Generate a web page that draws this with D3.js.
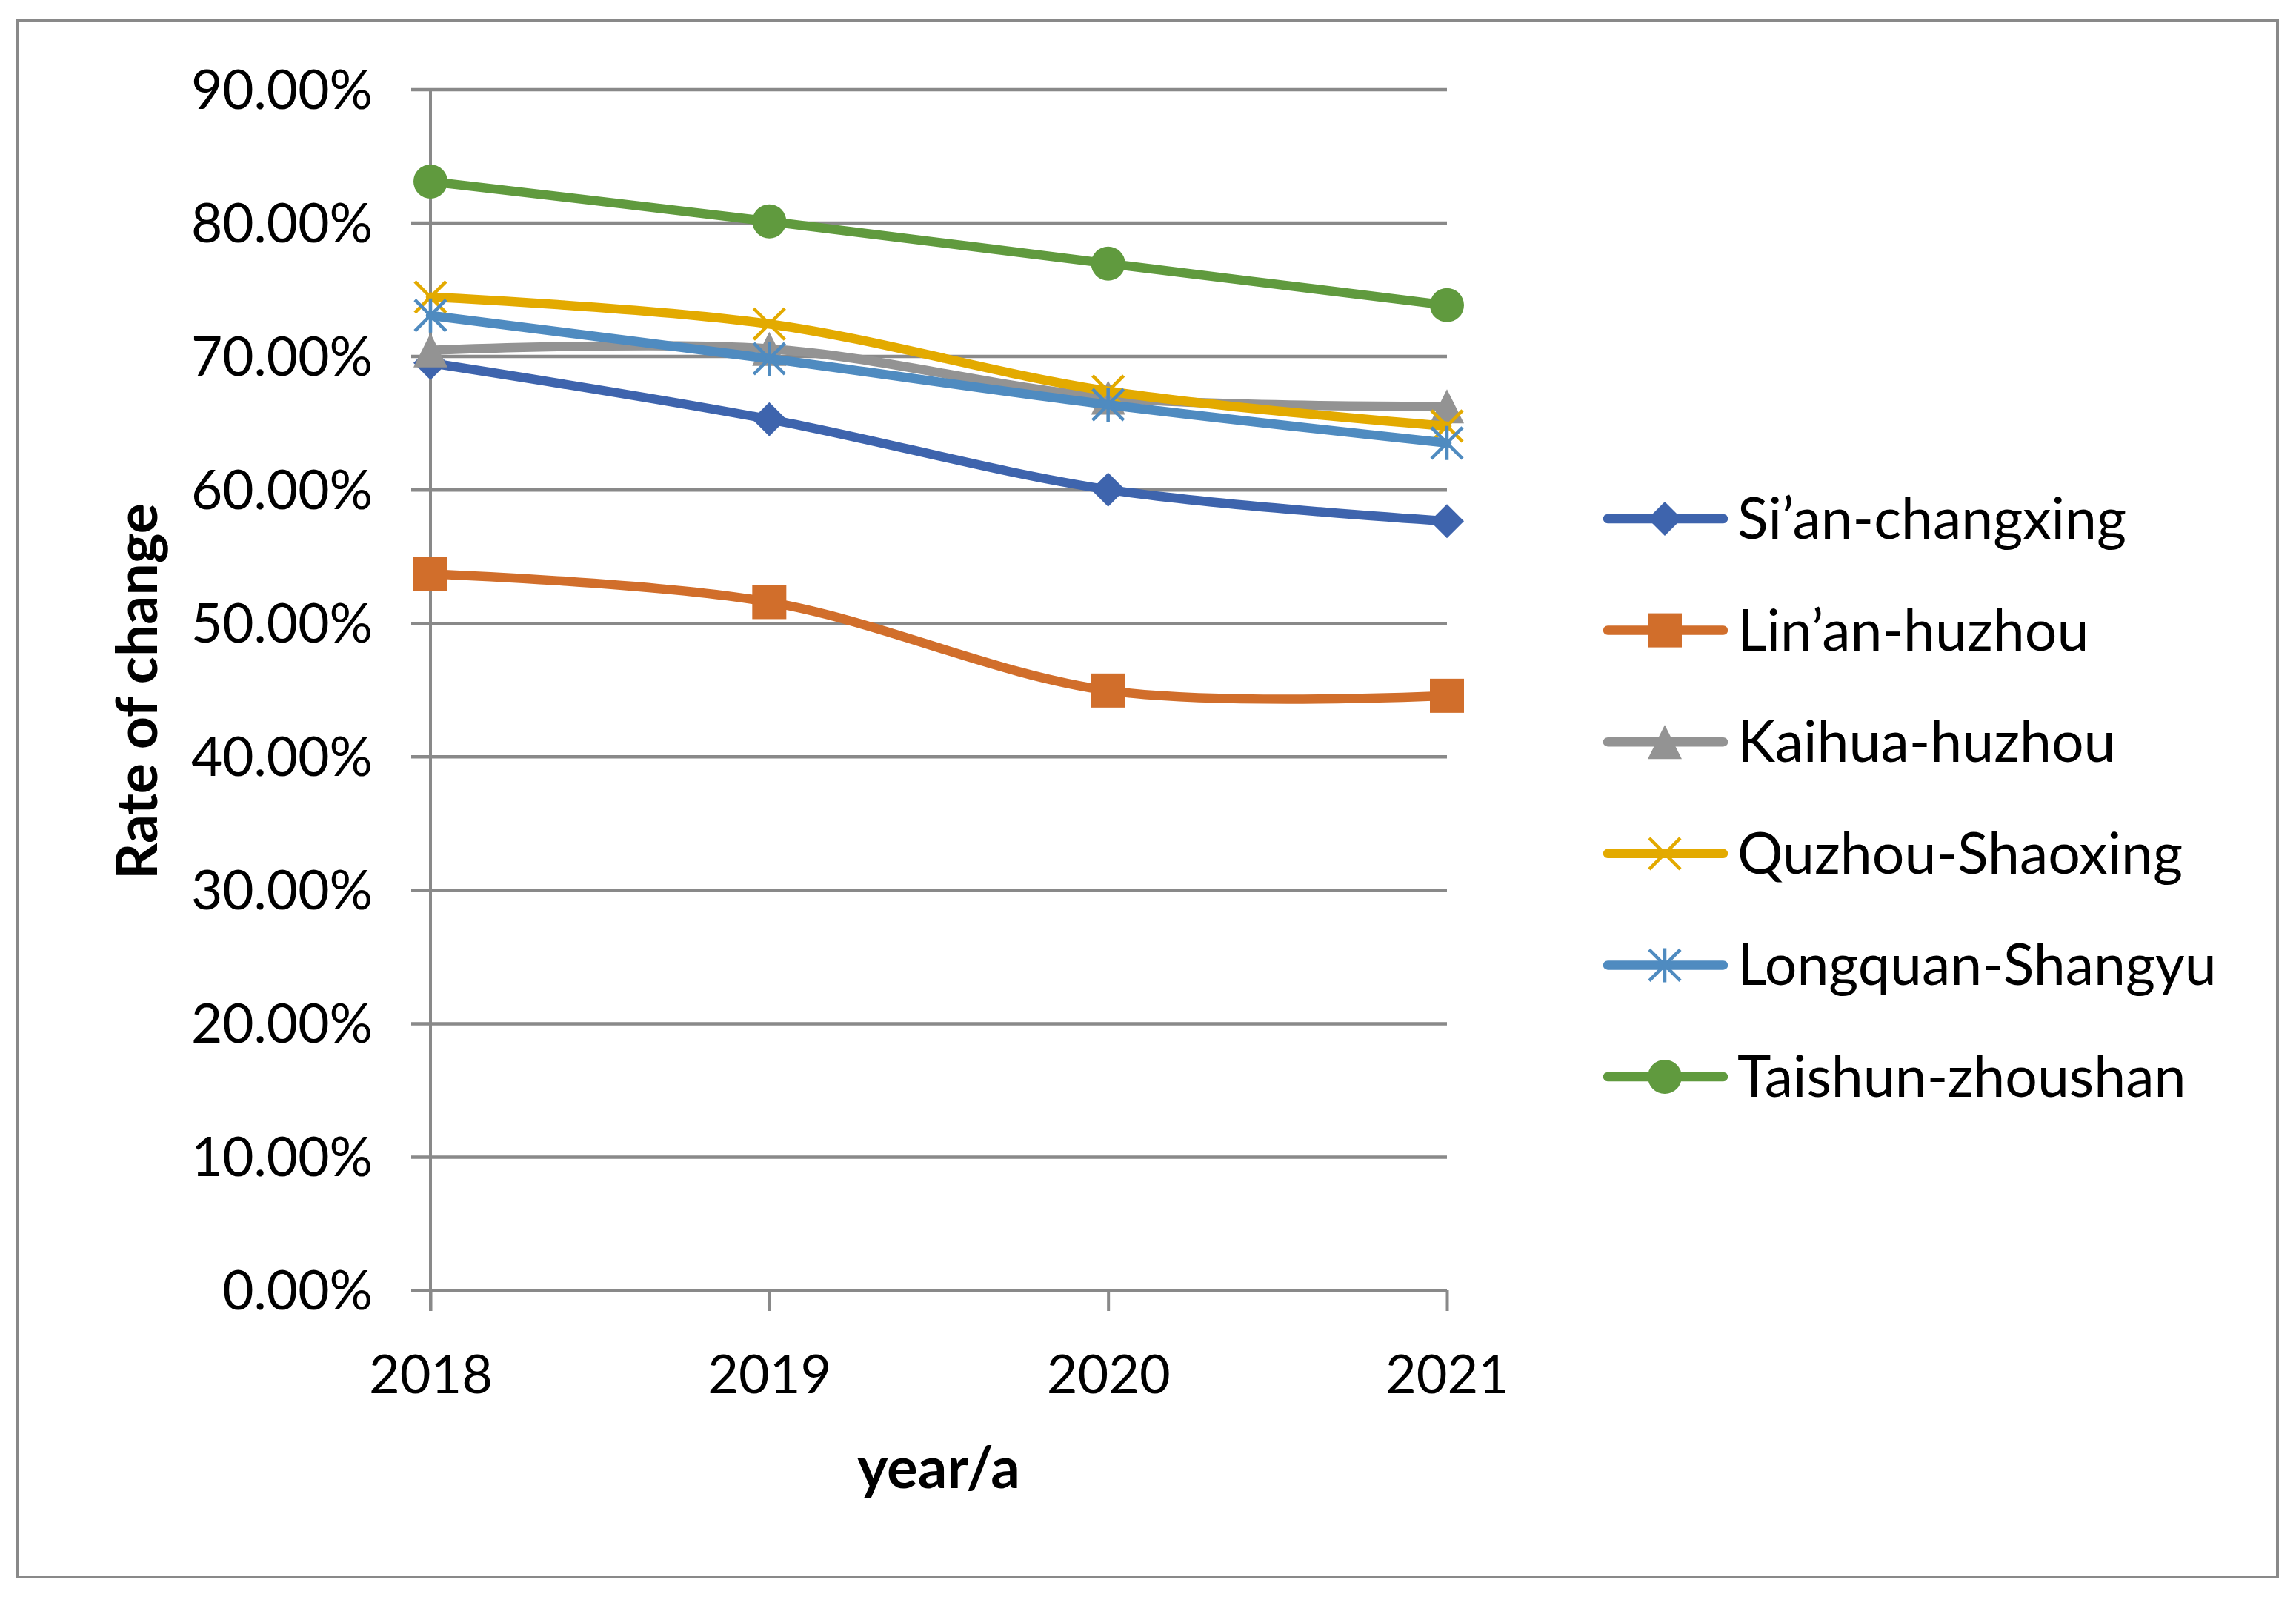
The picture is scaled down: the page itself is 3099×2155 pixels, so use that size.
<!DOCTYPE html>
<html>
<head>
<meta charset="utf-8">
<script src="https://cdn.jsdelivr.net/npm/d3@7"></script>
<style>
  body { margin: 0; background: #fff; }
  svg { display: block; font-family: Lato, "Open Sans", sans-serif; }
</style>
</head>
<body>
<svg id="chart"></svg>
<script>
// data
const years = ["2018", "2019", "2020", "2021"];
const seriesNames = ["Si\u2019an-changxing", "Lin\u2019an-huzhou", "Kaihua-huzhou",
    "Quzhou-Shaoxing", "Longquan-Shangyu", "Taishun-zhoushan"];
const sianChangxing = [0.6949, 0.6527, 0.6000, 0.5763];
const linanHuzhou = [0.5368, 0.5157, 0.4494, 0.4455];
const kaihuaHuzhou = [0.7044, 0.7055, 0.6690, 0.6624];
const quzhouShaoxing = [0.7443, 0.7241, 0.6738, 0.6476];
const longquanShangyu = [0.7305, 0.6981, 0.6636, 0.6349];
const taishunZhoushan = [0.8309, 0.8010, 0.7694, 0.7382];
const yTicks = [0, 0.1, 0.2, 0.3, 0.4, 0.5, 0.6, 0.7, 0.8, 0.9];

const allValues = [sianChangxing, linanHuzhou, kaihuaHuzhou, quzhouShaoxing, longquanShangyu, taishunZhoushan];
const colors = ["#3e64ad", "#d16e2b", "#939393", "#e3aa00", "#4f8bc0", "#609a3e"];
const markers = ["diamond", "square", "triangle", "x", "star", "circle"];

const width = 3099, height = 2155;
const svg = d3.select("#chart").attr("width", width).attr("height", height);

const x = d3.scalePoint().domain(years).range([581, 1953]);
const y = d3.scaleLinear().domain([0, 0.9]).range([1741, 120.5]);
const gridColor = "#898989";

// outer frame
svg.append("rect")
    .attr("x", 23).attr("y", 28)
    .attr("width", 3051).attr("height", 2100)
    .attr("fill", "none").attr("stroke", gridColor).attr("stroke-width", 4);

// gridlines + y labels
const yAxis = d3.axisLeft(y)
    .tickValues(yTicks)
    .tickSize(-(1953 - 555))
    .tickPadding(0)
    .tickFormat(d => (d * 100).toFixed(2) + "%");
const gy = svg.append("g").attr("transform", "translate(555,0)").call(yAxis);
gy.select(".domain").remove();
gy.selectAll(".tick line").attr("stroke", gridColor).attr("stroke-width", 4.5);
gy.selectAll(".tick text")
    .attr("x", -52).attr("dy", "0.35em")
    .attr("fill", "#000").attr("font-size", 73).attr("font-family", "Lato");

// vertical axis line
svg.append("line")
    .attr("x1", x(years[0])).attr("x2", x(years[0]))
    .attr("y1", y(0.9)).attr("y2", y(0) + 28)
    .attr("stroke", gridColor).attr("stroke-width", 4);

// x axis ticks & labels
const xAxis = d3.axisBottom(x).tickSize(28).tickPadding(0);
const gx = svg.append("g").attr("transform", `translate(0,${y(0)})`).call(xAxis);
gx.select(".domain").remove();
gx.selectAll(".tick line").attr("stroke", gridColor).attr("stroke-width", 4);
gx.selectAll(".tick text")
    .attr("y", 139).attr("dy", 0)
    .attr("fill", "#000").attr("font-size", 72).attr("font-family", "Lato");

// axis titles
svg.append("text")
    .attr("transform", "translate(212,933) rotate(-90)")
    .attr("text-anchor", "middle")
    .attr("font-size", 77).attr("font-weight", "bold")
    .text("Rate of change");
svg.append("text")
    .attr("x", (x(years[0]) + x(years[3])) / 2).attr("y", 2008)
    .attr("text-anchor", "middle")
    .attr("font-size", 78).attr("font-weight", "bold")
    .text("year/a");

function drawMarker(g, type, color) {
    const r = 23;
    if (type === "diamond") {
        g.append("path").attr("d", `M0,${-r}L${r},0L0,${r}L${-r},0Z`).attr("fill", color);
    } else if (type === "square") {
        g.append("rect").attr("x", -r).attr("y", -r).attr("width", 2 * r).attr("height", 2 * r).attr("fill", color);
    } else if (type === "triangle") {
        g.append("path").attr("d", `M0,${-r}L${r},${r}L${-r},${r}Z`).attr("fill", color);
    } else if (type === "circle") {
        g.append("circle").attr("r", r).attr("fill", color);
    } else {
        const k = 21;
        let d = `M${-k},${-k}L${k},${k}M${k},${-k}L${-k},${k}`;
        if (type === "star") d += `M0,${-r}L0,${r}`;
        g.append("path").attr("d", d).attr("stroke", color).attr("stroke-width", 4.5).attr("fill", "none");
    }
}

const line = d3.line()
    .x((d, i) => x(years[i]))
    .y(d => y(d))
    .curve(d3.curveCardinal.tension(0));

allValues.forEach((vals, s) => {
    svg.append("path")
        .attr("d", line(vals))
        .attr("fill", "none")
        .attr("stroke", colors[s])
        .attr("stroke-width", 12.5)
        .attr("stroke-linecap", "round")
        .attr("stroke-linejoin", "round");
    vals.forEach((v, i) => {
        const g = svg.append("g").attr("transform", `translate(${x(years[i])},${y(v)})`);
        drawMarker(g, markers[s], colors[s]);
    });
});

// legend
seriesNames.forEach((name, s) => {
    const ly = 700 + s * 150.6;
    const g = svg.append("g").attr("transform", `translate(0,${ly})`);
    g.append("line")
        .attr("x1", 2170).attr("x2", 2326)
        .attr("stroke", colors[s]).attr("stroke-width", 12.5).attr("stroke-linecap", "round");
    drawMarker(g.append("g").attr("transform", "translate(2247,0)"), markers[s], colors[s]);
    g.append("text")
        .attr("x", 2345).attr("y", 27)
        .attr("font-size", 77)
        .text(name);
});
</script>
</body>
</html>
